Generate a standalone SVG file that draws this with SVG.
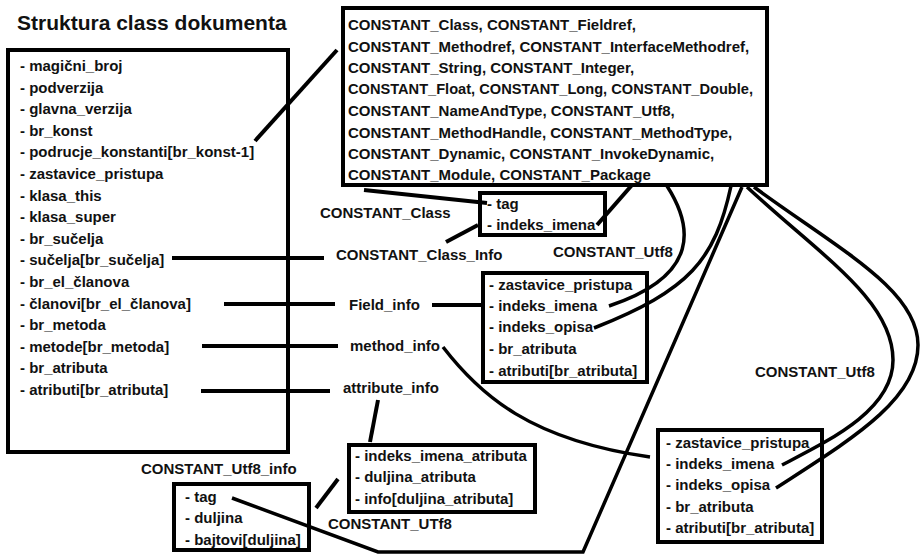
<svg xmlns="http://www.w3.org/2000/svg" width="920" height="554" viewBox="0 0 920 554">
<style>
text{font-family:"Liberation Sans",Arial,sans-serif;font-weight:bold;font-size:15px;fill:#111}
.box{fill:#fff;stroke:#000;stroke-width:4}
.ln{fill:none;stroke:#000;stroke-width:4;stroke-linecap:butt}
.cv{fill:none;stroke:#000;stroke-width:3.5}
</style>
<rect width="920" height="554" fill="#fff"/>
<text x="17" y="30" style="font-size:21px">Struktura class dokumenta</text>

<g id="class_file">
<rect class="box" x="8" y="50" width="280" height="402"/>
<text x="20" y="71">- magični_broj</text>
<text x="20" y="92.6">- podverzija</text>
<text x="20" y="114.2">- glavna_verzija</text>
<text x="20" y="135.8">- br_konst</text>
<text x="20" y="157.4">- podrucje_konstanti[br_konst-1]</text>
<text x="20" y="179">- zastavice_pristupa</text>
<text x="20" y="200.6">- klasa_this</text>
<text x="20" y="222.2">- klasa_super</text>
<text x="20" y="243.8">- br_sučelja</text>
<text x="20" y="265.4">- sučelja[br_sučelja]</text>
<text x="20" y="287">- br_el_članova</text>
<text x="20" y="308.6">- članovi[br_el_članova]</text>
<text x="20" y="330.2">- br_metoda</text>
<text x="20" y="351.8">- metode[br_metoda]</text>
<text x="20" y="373.4">- br_atributa</text>
<text x="20" y="395">- atributi[br_atributa]</text>
</g>

<g id="constants">
<rect class="box" x="343" y="8" width="424" height="177"/>
<text x="348" y="30">CONSTANT_Class, CONSTANT_Fieldref,</text>
<text x="348" y="52">CONSTANT_Methodref, CONSTANT_InterfaceMethodref,</text>
<text x="348" y="73">CONSTANT_String, CONSTANT_Integer,</text>
<text x="348" y="94" textLength="405" lengthAdjust="spacingAndGlyphs">CONSTANT_Float, CONSTANT_Long, CONSTANT_Double,</text>
<text x="348" y="116">CONSTANT_NameAndType, CONSTANT_Utf8,</text>
<text x="348" y="138">CONSTANT_MethodHandle, CONSTANT_MethodType,</text>
<text x="348" y="159">CONSTANT_Dynamic, CONSTANT_InvokeDynamic,</text>
<text x="348" y="180">CONSTANT_Module, CONSTANT_Package</text>
</g>

<g id="class_info">
<rect class="box" x="480" y="193" width="125" height="42"/>
<text x="487" y="209">- tag</text>
<text x="487" y="230">- indeks_imena</text>
</g>

<g id="field_info">
<rect class="box" x="483" y="273" width="164" height="109"/>
<text x="489" y="290">- zastavice_pristupa</text>
<text x="489" y="311">- indeks_imena</text>
<text x="489" y="332">- indeks_opisa</text>
<text x="489" y="354">- br_atributa</text>
<text x="489" y="376">- atributi[br_atributa]</text>
</g>

<g id="method_info">
<rect class="box" x="658" y="430" width="164" height="112"/>
<text x="666" y="448">- zastavice_pristupa</text>
<text x="666" y="469">- indeks_imena</text>
<text x="666" y="490">- indeks_opisa</text>
<text x="666" y="512">- br_atributa</text>
<text x="666" y="533">- atributi[br_atributa]</text>
</g>

<g id="attribute_info">
<rect class="box" x="349" y="445" width="186" height="67"/>
<text x="355" y="461">- indeks_imena_atributa</text>
<text x="355" y="482">- duljina_atributa</text>
<text x="355" y="504">- info[duljina_atributa]</text>
</g>

<g id="utf8_info">
<rect class="box" x="174" y="484" width="135" height="66"/>
<text x="185" y="502">- tag</text>
<text x="185" y="523">- duljina</text>
<text x="185" y="545">- bajtovi[duljina]</text>
</g>

<g id="labels">
<text x="320" y="218">CONSTANT_Class</text>
<text x="336" y="260">CONSTANT_Class_Info</text>
<text x="553" y="257">CONSTANT_Utf8</text>
<text x="349" y="310">Field_info</text>
<text x="350" y="351">method_info</text>
<text x="343" y="393">attribute_info</text>
<text x="755" y="377">CONSTANT_Utf8</text>
<text x="141" y="474">CONSTANT_Utf8_info</text>
<text x="328" y="529">CONSTANT_UTf8</text>
</g>

<g id="connectors">
<line class="ln" x1="255" y1="141" x2="337" y2="50"/>
<line class="ln" x1="172" y1="258" x2="324" y2="258"/>
<line class="ln" x1="224" y1="304" x2="335" y2="304"/>
<line class="ln" x1="432" y1="305" x2="482" y2="305"/>
<line class="ln" x1="202" y1="346" x2="338" y2="346"/>
<line class="ln" x1="201" y1="391" x2="330" y2="391"/>
<line class="ln" x1="364" y1="190" x2="487" y2="203"/>
<line class="ln" x1="446" y1="242" x2="478" y2="225"/>
<line class="ln" x1="597" y1="225" x2="632" y2="185"/>
<line class="ln" x1="378" y1="400" x2="370" y2="442"/>
<line class="ln" x1="316" y1="508" x2="338" y2="479"/>
<path class="cv" d="M667 186 C692 225 702 275 609 306"/>
<path class="cv" d="M731 186 C715 260 690 290 594 328"/>
<polyline class="cv" points="232,498 378,552 583,552 742,187"/>
<path class="cv" d="M443 347 C480 395 530 440 650 457"/>
<path class="cv" d="M747 187 C820 255 893 300 893 360 C893 410 830 440 782 465"/>
<path class="cv" d="M754 187 C840 250 918 290 918 345 C918 400 850 440 776 488"/>
</g>
</svg>
